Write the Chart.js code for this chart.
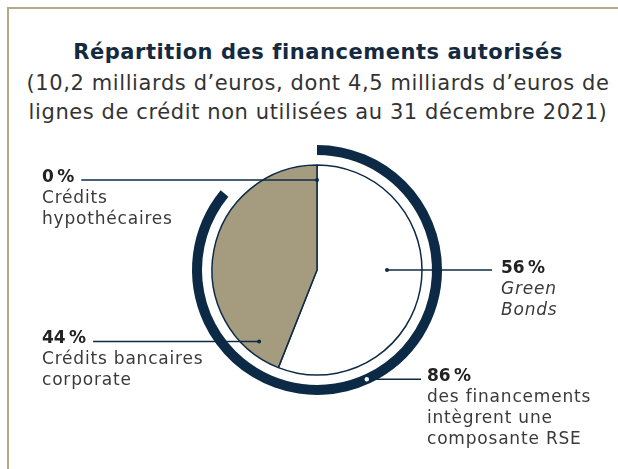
<!DOCTYPE html>
<html>
<head>
<meta charset="utf-8">
<script src="https://cdn.jsdelivr.net/npm/chart.js@4"></script>
<style>
  html, body { margin: 0; padding: 0; background: #fff; }
  #wrap { position: relative; width: 618px; height: 469px; overflow: hidden; font-family: "DejaVu Sans", sans-serif; }
  #frame { position: absolute; left: 7px; top: 7px; width: 700px; height: 600px; border-left: 2px solid #b3a887; border-top: 2px solid #b3a887; }
  #title { position: absolute; left: 9px; width: 618px; top: 40px; text-align: center; color: #132a40; font-weight: 700; font-size: 21px; letter-spacing: 0.55px; line-height: 24px; }
  #sub { position: absolute; left: 9px; width: 618px; top: 69px; text-align: center; color: #333; font-size: 21px; letter-spacing: 0.6px; line-height: 29px; }
  canvas { position: absolute; left: 0; top: 0; }
</style>
</head>
<body>
<div id="wrap">
  <div id="frame"></div>
  <div id="title">Répartition des financements autorisés</div>
  <div id="sub">(10,2 milliards d’euros, dont 4,5 milliards d’euros de<br>lignes de crédit non utilisées au 31 décembre 2021)</div>
  <canvas id="pie" width="618" height="469"></canvas>
</div>
<script>
// slices, clockwise from 12 o'clock
const categories = ['Green Bonds', 'Crédits bancaires corporate', 'Crédits hypothécaires'];
const shares = [56, 44, 0];
// outer ring: share of financing with an ESG component
const rseShare = 86;
const rseCaption = ['des financements', 'intègrent une', 'composante RSE'];

const navy = '#0c2a45';
const khaki = '#a59c80';
const textGray = '#3a3a3a';

const pct = v => v + '\u202f%';

// label blocks: which slice, where the text sits and where the leader dot goes (angle from top, radius)
const callouts = [
  { slice: 2, x: 42, y: 182, lines: ['Crédits', 'hypothécaires'], angle: 0, r: 90, side: 'left' },
  { slice: 1, x: 42, y: 343, lines: ['Crédits bancaires', 'corporate'], angle: 219, r: 92, side: 'left' },
  { slice: 0, x: 501, y: 273, lines: ['Green', 'Bonds'], italic: true, angle: 90, r: 70, side: 'right' },
];

const FONT = '"DejaVu Sans"';

const calloutPlugin = {
  id: 'callouts',
  afterDraw(chart) {
    const ctx = chart.ctx;
    const arc = chart.getDatasetMeta(2).data[0];
    const cx = arc.x, cy = arc.y;
    const ring = chart.getDatasetMeta(0).data[0];
    const ringMid = (ring.innerRadius + ring.outerRadius) / 2;
    const at = (deg, r) => {
      const a = (deg - 90) * Math.PI / 180;
      return { x: cx + r * Math.cos(a), y: cy + r * Math.sin(a) };
    };
    ctx.save();
    ctx.textBaseline = 'alphabetic';
    ctx.textAlign = 'left';
    ctx.letterSpacing = '0.8px';
    const block = (x, y, head, lines, italic) => {
      ctx.fillStyle = '#222';
      ctx.font = '700 17px ' + FONT;
      ctx.fillText(head, x, y);
      const w = ctx.measureText(head).width;
      ctx.fillStyle = textGray;
      ctx.font = (italic ? 'italic ' : '') + '400 17px ' + FONT;
      lines.forEach((t, i) => ctx.fillText(t, x, y + 21 * (i + 1)));
      return w;
    };
    const leader = (x1, x2, y, dot, hollow) => {
      ctx.strokeStyle = navy;
      ctx.lineWidth = 1.5;
      ctx.beginPath();
      ctx.moveTo(x1, y);
      ctx.lineTo(x2, y);
      ctx.stroke();
      ctx.beginPath();
      ctx.arc(dot, y, hollow ? 3 : 2, 0, Math.PI * 2);
      ctx.fillStyle = hollow ? '#fff' : navy;
      ctx.fill();
      if (hollow) ctx.stroke();
    };
    callouts.forEach(c => {
      const w = block(c.x, c.y, pct(shares[c.slice]), c.lines, c.italic);
      const p = at(c.angle, c.r);
      if (c.side === 'left') leader(c.x + w + 7, p.x, p.y, p.x);
      else leader(p.x, c.x - 9, p.y, p.x);
    });
    // ring callout
    const q = at(155.5, ringMid);
    block(427, 381, pct(rseShare), rseCaption, false);
    leader(q.x, 421, q.y, q.x, true);
    ctx.restore();
  }
};

new Chart(document.getElementById('pie'), {
  type: 'doughnut',
  data: {
    labels: categories,
    datasets: [
      {
        // outer ring
        data: [rseShare, 100 - rseShare],
        backgroundColor: [navy, 'rgba(0,0,0,0)'],
        borderWidth: 0,
        weight: 10
      },
      {
        // gap between ring and pie
        data: [100],
        backgroundColor: 'rgba(0,0,0,0)',
        borderWidth: 0,
        weight: 10
      },
      {
        data: shares,
        backgroundColor: ['#ffffff', khaki, khaki],
        borderColor: navy,
        borderWidth: 1.5,
        weight: 105
      }
    ]
  },
  options: {
    responsive: false,
    animation: false,
    events: [],
    cutout: 0,
    radius: 125,
    layout: { padding: { left: 100, right: 84, top: 140, bottom: 69 } },
    plugins: {
      legend: { display: false },
      tooltip: { enabled: false }
    }
  },
  plugins: [calloutPlugin]
});
</script>
</body>
</html>
